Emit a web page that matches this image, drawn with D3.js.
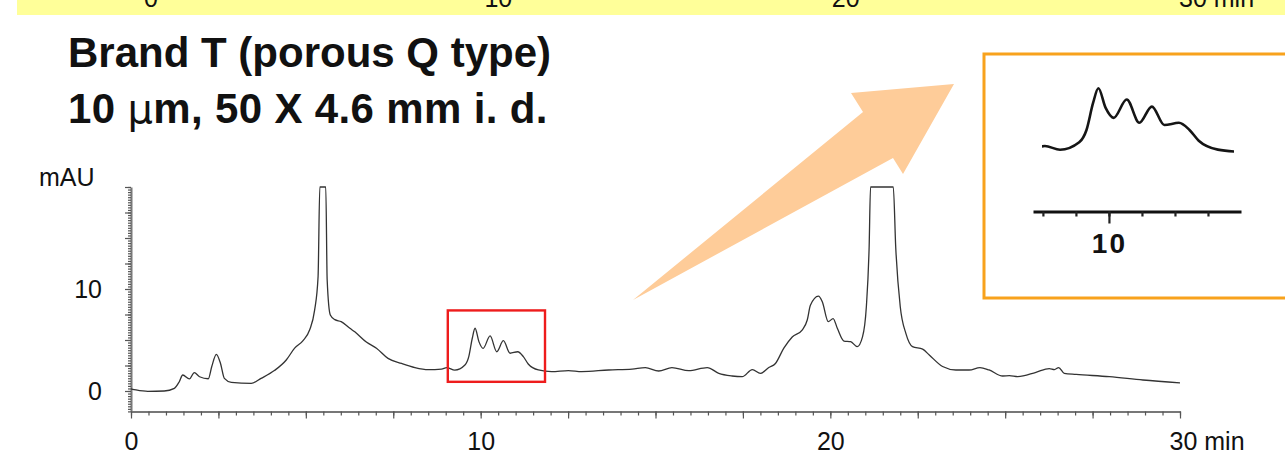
<!DOCTYPE html>
<html lang="en">
<head>
<meta charset="UTF-8">
<title>Brand T chromatogram</title>
<style>
  body { margin: 0; background: #fff; }
  svg { display: block; font-family: "Liberation Sans", Arial, Helvetica, sans-serif; }
  .trace { fill: none; stroke: #333; stroke-width: 1.3; stroke-linejoin: round; }
  .axis .domain { stroke: #777; stroke-width: 2; }
  .axis line { stroke: #555; stroke-width: 1.2; }
  .axis text { font-size: 25px; fill: #111; }
  .title { font-size: 42px; font-weight: bold; fill: #111; }
  .inset-trace { fill: none; stroke: #151515; stroke-width: 2.6; stroke-linejoin: round; }
  .inset-axis .domain { stroke: #111; stroke-width: 3; }
  .inset-axis line { stroke: #222; stroke-width: 2.2; }
</style>
</head>
<body>
<script src="https://cdn.jsdelivr.net/npm/d3@7"></script>
<script>
// retention time (min) and absorbance (mAU); 20 = off scale
var timeMin = [0, 0.05, 0.48, 0.95, 1.24, 1.38, 1.48, 1.67, 1.81, 1.96, 2.21, 2.31, 2.44, 2.56, 2.67, 2.87,
  3.44, 3.72, 4.1, 4.44, 4.68, 4.92, 5.11, 5.25, 5.35, 5.4, 5.57, 5.61, 5.7, 5.83, 6.01, 6.26, 6.4, 6.73,
  7.02, 7.35, 7.74, 8.12, 8.5, 8.88, 9.03, 9.26, 9.55, 9.66, 9.76, 9.84, 9.95, 10.07, 10.27, 10.46, 10.65,
  10.84, 11.06, 11.22, 11.36, 11.65, 12.03, 12.51, 12.89, 13.66, 14.33, 14.71, 15.09, 15.47, 15.95, 16.48,
  16.81, 17.19, 17.48, 17.77, 18.0, 18.24, 18.43, 18.67, 18.91, 19.2, 19.34, 19.43, 19.66, 19.77, 19.94,
  20.08, 20.2, 20.39, 20.58, 20.77, 20.92, 21.03, 21.11, 21.15, 21.8, 21.87, 22.0, 22.16, 22.35, 22.64,
  22.83, 23.21, 23.59, 23.97, 24.28, 24.54, 24.93, 25.12, 25.36, 25.88, 26.26, 26.41, 26.53, 26.69, 27.03,
  27.98, 28.94, 30];
var absorbance = [0.2, 0.17, -0.03, 0, 0.26, 0.91, 1.57, 1.18, 1.8, 1.4, 1.2, 2.4, 3.6, 2.7, 1.24, 0.85,
  0.75, 1.24, 2.0, 3.04, 4.2, 4.93, 6.0, 7.9, 11.2, 20, 20, 10.9, 7.45, 7.0, 6.8, 6.15, 5.8, 4.8,
  4.2, 3.2, 2.7, 2.3, 2.1, 2.15, 2.3, 2.05, 2.55, 3.37, 5.17, 6.15, 4.84, 4.18, 5.4, 3.85, 4.93,
  3.7, 3.85, 3.37, 2.65, 2.06, 1.9, 2.0, 1.9, 2.06, 2.15, 2.3, 1.96, 2.3, 2.0, 2.3,
  1.73, 1.47, 1.4, 2.1, 1.73, 2.3, 2.7, 4.2, 5.3, 6.0, 6.96, 8.4, 9.3, 8.75, 6.8,
  7.1, 6.15, 4.9, 4.84, 4.35, 5.3, 8.26, 14.15, 20, 20, 14.1, 8.26, 5.65, 4.35, 4.1,
  3.53, 2.4, 2.06, 2.06, 2.3, 2.06, 1.47, 1.5, 1.4, 1.83, 2.2, 2.1, 2.3, 1.73, 1.63,
  1.4, 1.08, 0.8];

var xTickValues = [0, 10, 20, 30];
var xTickLabels = ['0', '10', '20', '30 min'];
var yTickValues = [0, 10];
var yTickLabels = ['0', '10'];
var insetTickValues = [9, 9.5, 10, 10.5, 11, 11.5];
var insetLabelValues = [10];
var zoomTime = [9.06, 11.84];
var zoomAbs = [0.9, 7.9];
var titleLines = ['Brand T (porous Q type)', '10 \u03bcm, 50 X 4.6 mm i. d.'];

var width = 1285, height = 458;
var svg = d3.select('body').append('svg')
  .attr('width', width)
  .attr('height', height);

var points = timeMin.map(function(t, i) { return [t, absorbance[i]]; });

// leftover strip from the chart above (its labels are cut by the page edge, as in the slide)
svg.append('rect')
  .attr('x', 17).attr('y', 0)
  .attr('width', 1268).attr('height', 15)
  .attr('fill', '#ffff99');
var xPrev = d3.scaleLinear().domain([0, 30]).range([151, 1193]);
svg.selectAll('.prev-label')
  .data(xTickValues)
  .enter().append('text')
  .attr('class', 'prev-label')
  .attr('x', function(d, i) { return i === 3 ? xPrev(d) - 14 : xPrev(d); })
  .attr('y', 7)
  .attr('text-anchor', function(d, i) { return i === 3 ? 'start' : 'middle'; })
  .style('font-size', '25px')
  .attr('fill', '#111')
  .text(function(d, i) { return xTickLabels[i]; });

// title
svg.selectAll('.title')
  .data(titleLines)
  .enter().append('text')
  .attr('class', 'title')
  .attr('x', 68)
  .attr('y', function(d, i) { return i === 0 ? 66.5 : 123; })
  .each(function(d, i) {
    var t = d3.select(this);
    if (i === 1) {
      t.style('letter-spacing', '0.35px');
      t.append('tspan').text('10 ');
      t.append('tspan').style('font-weight', 'normal').style('font-family', '"DejaVu Sans", sans-serif')
        .style('font-size', '40px').text('\u03bc');
      t.append('tspan').text('m, 50 X 4.6 mm i. d.');
    } else {
      t.text(d);
    }
  });

// main scales
var x = d3.scaleLinear().domain([0, 30]).range([131, 1180]);
var y = d3.scaleLinear().domain([-2, 20]).range([411.4, 187]);

// arrow
svg.append('polygon')
  .attr('points', '633,300 863,112 851,93 954,84 903,174 893,158')
  .attr('fill', '#fecc99');

// y axis: minor, medium ticks, labels
svg.append('g').attr('class', 'axis').attr('transform', 'translate(131,0)')
  .call(d3.axisLeft(y).tickValues(d3.range(-2, 20.001, 0.25)).tickSize(3).tickSizeOuter(0).tickFormat(''));
svg.append('g').attr('class', 'axis').attr('transform', 'translate(131,0)')
  .call(d3.axisLeft(y).tickValues(d3.range(0, 20.001, 2.5)).tickSize(6).tickFormat(''))
  .select('.domain').remove();
svg.append('g').attr('class', 'axis').attr('transform', 'translate(131,0)')
  .call(d3.axisLeft(y).tickValues(yTickValues).tickSize(0).tickPadding(29)
    .tickFormat(function(d, i) { return yTickLabels[i]; }))
  .select('.domain').remove();

svg.append('text')
  .attr('x', 39).attr('y', 186)
  .style('font-size', '25px')
  .attr('fill', '#111')
  .text('mAU');

// x axis
var xAxisY = 411.5;
svg.append('g').attr('class', 'axis').attr('transform', 'translate(0,' + xAxisY + ')')
  .call(d3.axisBottom(x).tickValues(d3.range(0, 30.001, 0.5)).tickSize(4).tickSizeOuter(0).tickFormat(''));
svg.append('g').attr('class', 'axis').attr('transform', 'translate(0,' + xAxisY + ')')
  .call(d3.axisBottom(x).tickValues(d3.range(0, 30.001, 2.5)).tickSize(7).tickFormat(''))
  .select('.domain').remove();
var xl = svg.append('g').attr('class', 'axis').attr('transform', 'translate(0,' + xAxisY + ')')
  .call(d3.axisBottom(x).tickValues(xTickValues).tickSize(0).tickPadding(21)
    .tickFormat(function(d, i) { return xTickLabels[i]; }));
xl.select('.domain').remove();
xl.selectAll('text')
  .filter(function(d) { return d === 30; })
  .attr('text-anchor', 'start')
  .attr('x', -11);

// trace
var line = d3.line()
  .x(function(d) { return x(d[0]); })
  .y(function(d) { return y(d[1]); })
  .curve(d3.curveMonotoneX);
svg.append('path')
  .datum(points)
  .attr('class', 'trace')
  .attr('d', line);

// zoom window
svg.append('rect')
  .attr('x', x(zoomTime[0]))
  .attr('y', y(zoomAbs[1]))
  .attr('width', x(zoomTime[1]) - x(zoomTime[0]))
  .attr('height', y(zoomAbs[0]) - y(zoomAbs[1]))
  .attr('fill', 'none')
  .attr('stroke', '#ee1c1c')
  .attr('stroke-width', 2.4);

// inset
svg.append('rect')
  .attr('x', 984).attr('y', 54)
  .attr('width', 320).attr('height', 244)
  .attr('fill', '#fff')
  .attr('stroke', '#f8a21c')
  .attr('stroke-width', 3);

var xi = d3.scaleLinear().domain([8.85, 12]).range([1033, 1241]);
var yi = d3.scaleLinear().domain([0, 6.15]).range([180.5, 88.3]);

svg.append('clipPath').attr('id', 'inset-clip')
  .append('rect').attr('x', 1042).attr('y', 60).attr('width', 192).attr('height', 120);

var insetLine = d3.line()
  .x(function(d) { return xi(d[0]); })
  .y(function(d) { return yi(d[1]); })
  .curve(d3.curveMonotoneX);
svg.append('path')
  .datum(points.filter(function(d) { return d[0] >= 8.8 && d[0] <= 12.1; }))
  .attr('class', 'inset-trace')
  .attr('clip-path', 'url(#inset-clip)')
  .attr('d', insetLine);

var insetY = 211.5;
svg.append('g').attr('class', 'inset-axis').attr('transform', 'translate(0,' + insetY + ')')
  .call(d3.axisBottom(xi).tickValues(insetTickValues).tickSize(5).tickSizeOuter(0).tickFormat(''));
var il = svg.append('g').attr('class', 'inset-axis').attr('transform', 'translate(0,' + insetY + ')')
  .call(d3.axisBottom(xi).tickValues(insetLabelValues).tickSize(12).tickPadding(10).tickFormat(d3.format('d')));
il.select('.domain').remove();
il.selectAll('text')
  .style('font-size', '28px')
  .style('font-weight', 'bold')
  .style('letter-spacing', '2px')
  .attr('fill', '#111');
</script>
</body>
</html>
